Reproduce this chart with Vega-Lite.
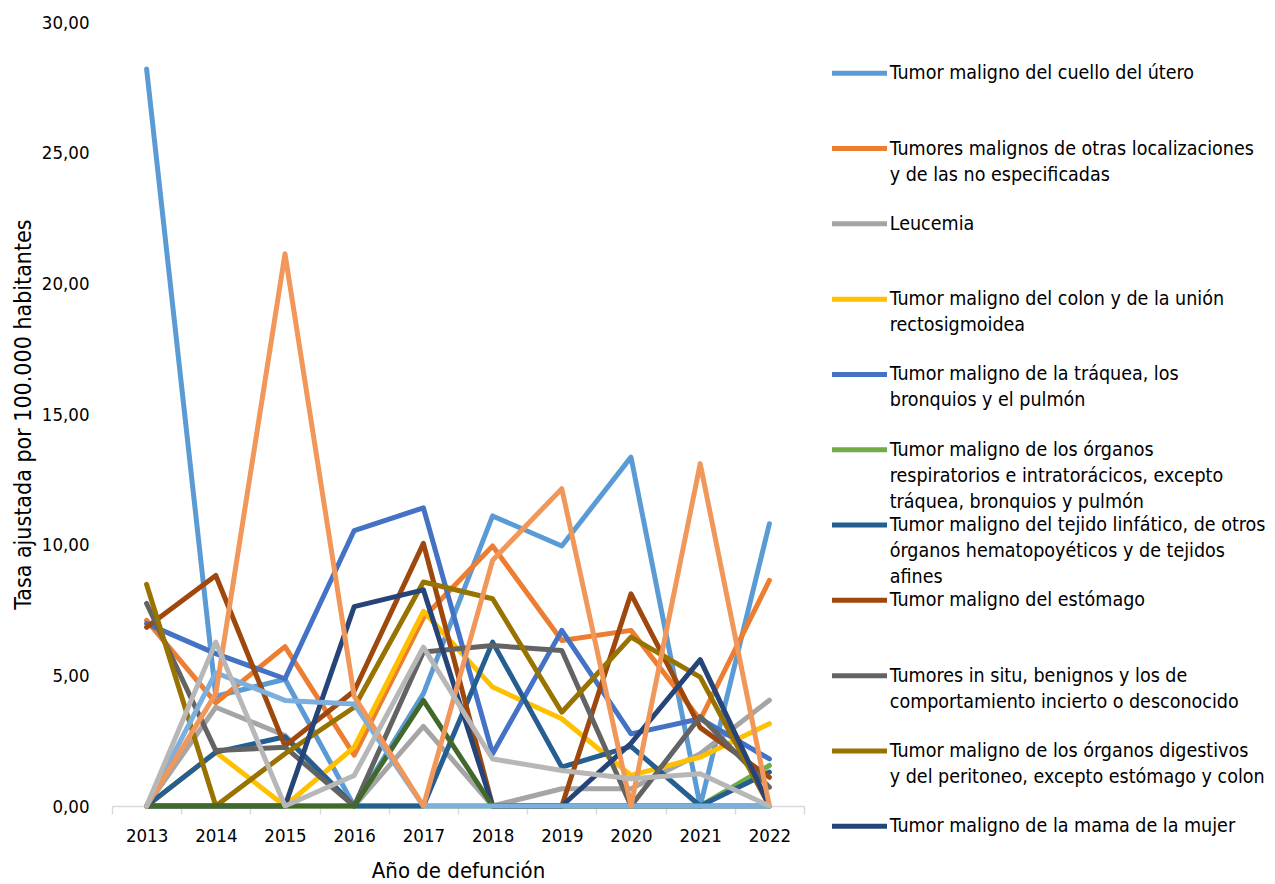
{
"$schema": "https://vega.github.io/schema/vega-lite/v6.json",
"width": 692, "height": 784,
"autosize": {"type": "none"},
"padding": {"left": 112, "top": 22, "right": 471, "bottom": 78},
"background": "white",
"config": {"view": {"stroke": null}, "font": "DejaVu Sans Condensed, Liberation Sans Narrow, sans-serif"},
"datasets": {"d": [
{"anio":"2013","causa":"Tumor maligno del cuello del útero","tasa":28.2},
{"anio":"2014","causa":"Tumor maligno del cuello del útero","tasa":4.2},
{"anio":"2015","causa":"Tumor maligno del cuello del útero","tasa":4.85},
{"anio":"2016","causa":"Tumor maligno del cuello del útero","tasa":0},
{"anio":"2017","causa":"Tumor maligno del cuello del útero","tasa":4.3},
{"anio":"2018","causa":"Tumor maligno del cuello del útero","tasa":11.1},
{"anio":"2019","causa":"Tumor maligno del cuello del útero","tasa":9.95},
{"anio":"2020","causa":"Tumor maligno del cuello del útero","tasa":13.35},
{"anio":"2021","causa":"Tumor maligno del cuello del útero","tasa":0},
{"anio":"2022","causa":"Tumor maligno del cuello del útero","tasa":10.8},
{"anio":"2013","causa":"Tumores malignos de otras localizaciones y de las no especificadas","tasa":7.1},
{"anio":"2014","causa":"Tumores malignos de otras localizaciones y de las no especificadas","tasa":3.95},
{"anio":"2015","causa":"Tumores malignos de otras localizaciones y de las no especificadas","tasa":6.1},
{"anio":"2016","causa":"Tumores malignos de otras localizaciones y de las no especificadas","tasa":1.95},
{"anio":"2017","causa":"Tumores malignos de otras localizaciones y de las no especificadas","tasa":7.2},
{"anio":"2018","causa":"Tumores malignos de otras localizaciones y de las no especificadas","tasa":9.95},
{"anio":"2019","causa":"Tumores malignos de otras localizaciones y de las no especificadas","tasa":6.33},
{"anio":"2020","causa":"Tumores malignos de otras localizaciones y de las no especificadas","tasa":6.72},
{"anio":"2021","causa":"Tumores malignos de otras localizaciones y de las no especificadas","tasa":3.3},
{"anio":"2022","causa":"Tumores malignos de otras localizaciones y de las no especificadas","tasa":8.63},
{"anio":"2013","causa":"Leucemia","tasa":0},
{"anio":"2014","causa":"Leucemia","tasa":3.78},
{"anio":"2015","causa":"Leucemia","tasa":2.7},
{"anio":"2016","causa":"Leucemia","tasa":0},
{"anio":"2017","causa":"Leucemia","tasa":3.05},
{"anio":"2018","causa":"Leucemia","tasa":0},
{"anio":"2019","causa":"Leucemia","tasa":0.66},
{"anio":"2020","causa":"Leucemia","tasa":0.66},
{"anio":"2021","causa":"Leucemia","tasa":2.0},
{"anio":"2022","causa":"Leucemia","tasa":4.05},
{"anio":"2013","causa":"Tumor maligno del colon y de la unión rectosigmoidea","tasa":0},
{"anio":"2014","causa":"Tumor maligno del colon y de la unión rectosigmoidea","tasa":2.06},
{"anio":"2015","causa":"Tumor maligno del colon y de la unión rectosigmoidea","tasa":0},
{"anio":"2016","causa":"Tumor maligno del colon y de la unión rectosigmoidea","tasa":2.25},
{"anio":"2017","causa":"Tumor maligno del colon y de la unión rectosigmoidea","tasa":7.45},
{"anio":"2018","causa":"Tumor maligno del colon y de la unión rectosigmoidea","tasa":4.55},
{"anio":"2019","causa":"Tumor maligno del colon y de la unión rectosigmoidea","tasa":3.34},
{"anio":"2020","causa":"Tumor maligno del colon y de la unión rectosigmoidea","tasa":1.17},
{"anio":"2021","causa":"Tumor maligno del colon y de la unión rectosigmoidea","tasa":1.87},
{"anio":"2022","causa":"Tumor maligno del colon y de la unión rectosigmoidea","tasa":3.15},
{"anio":"2013","causa":"Tumor maligno de la tráquea, los bronquios y el pulmón","tasa":6.98},
{"anio":"2014","causa":"Tumor maligno de la tráquea, los bronquios y el pulmón","tasa":5.83},
{"anio":"2015","causa":"Tumor maligno de la tráquea, los bronquios y el pulmón","tasa":4.87},
{"anio":"2016","causa":"Tumor maligno de la tráquea, los bronquios y el pulmón","tasa":10.54},
{"anio":"2017","causa":"Tumor maligno de la tráquea, los bronquios y el pulmón","tasa":11.41},
{"anio":"2018","causa":"Tumor maligno de la tráquea, los bronquios y el pulmón","tasa":2.0},
{"anio":"2019","causa":"Tumor maligno de la tráquea, los bronquios y el pulmón","tasa":6.72},
{"anio":"2020","causa":"Tumor maligno de la tráquea, los bronquios y el pulmón","tasa":2.76},
{"anio":"2021","causa":"Tumor maligno de la tráquea, los bronquios y el pulmón","tasa":3.34},
{"anio":"2022","causa":"Tumor maligno de la tráquea, los bronquios y el pulmón","tasa":1.8},
{"anio":"2013","causa":"Tumor maligno de los órganos respiratorios e intratorácicos, excepto tráquea, bronquios y pulmón","tasa":0},
{"anio":"2014","causa":"Tumor maligno de los órganos respiratorios e intratorácicos, excepto tráquea, bronquios y pulmón","tasa":0},
{"anio":"2015","causa":"Tumor maligno de los órganos respiratorios e intratorácicos, excepto tráquea, bronquios y pulmón","tasa":0},
{"anio":"2016","causa":"Tumor maligno de los órganos respiratorios e intratorácicos, excepto tráquea, bronquios y pulmón","tasa":0},
{"anio":"2017","causa":"Tumor maligno de los órganos respiratorios e intratorácicos, excepto tráquea, bronquios y pulmón","tasa":0},
{"anio":"2018","causa":"Tumor maligno de los órganos respiratorios e intratorácicos, excepto tráquea, bronquios y pulmón","tasa":0},
{"anio":"2019","causa":"Tumor maligno de los órganos respiratorios e intratorácicos, excepto tráquea, bronquios y pulmón","tasa":0},
{"anio":"2020","causa":"Tumor maligno de los órganos respiratorios e intratorácicos, excepto tráquea, bronquios y pulmón","tasa":0},
{"anio":"2021","causa":"Tumor maligno de los órganos respiratorios e intratorácicos, excepto tráquea, bronquios y pulmón","tasa":0},
{"anio":"2022","causa":"Tumor maligno de los órganos respiratorios e intratorácicos, excepto tráquea, bronquios y pulmón","tasa":1.55},
{"anio":"2013","causa":"Tumor maligno del tejido linfático, de otros órganos hematopoyéticos y de tejidos afines","tasa":0},
{"anio":"2014","causa":"Tumor maligno del tejido linfático, de otros órganos hematopoyéticos y de tejidos afines","tasa":2.06},
{"anio":"2015","causa":"Tumor maligno del tejido linfático, de otros órganos hematopoyéticos y de tejidos afines","tasa":2.65},
{"anio":"2016","causa":"Tumor maligno del tejido linfático, de otros órganos hematopoyéticos y de tejidos afines","tasa":0},
{"anio":"2017","causa":"Tumor maligno del tejido linfático, de otros órganos hematopoyéticos y de tejidos afines","tasa":0},
{"anio":"2018","causa":"Tumor maligno del tejido linfático, de otros órganos hematopoyéticos y de tejidos afines","tasa":6.27},
{"anio":"2019","causa":"Tumor maligno del tejido linfático, de otros órganos hematopoyéticos y de tejidos afines","tasa":1.49},
{"anio":"2020","causa":"Tumor maligno del tejido linfático, de otros órganos hematopoyéticos y de tejidos afines","tasa":2.28},
{"anio":"2021","causa":"Tumor maligno del tejido linfático, de otros órganos hematopoyéticos y de tejidos afines","tasa":0},
{"anio":"2022","causa":"Tumor maligno del tejido linfático, de otros órganos hematopoyéticos y de tejidos afines","tasa":1.3},
{"anio":"2013","causa":"Tumor maligno del estómago","tasa":6.84},
{"anio":"2014","causa":"Tumor maligno del estómago","tasa":8.82},
{"anio":"2015","causa":"Tumor maligno del estómago","tasa":2.3},
{"anio":"2016","causa":"Tumor maligno del estómago","tasa":4.4},
{"anio":"2017","causa":"Tumor maligno del estómago","tasa":10.05},
{"anio":"2018","causa":"Tumor maligno del estómago","tasa":0},
{"anio":"2019","causa":"Tumor maligno del estómago","tasa":0},
{"anio":"2020","causa":"Tumor maligno del estómago","tasa":8.12},
{"anio":"2021","causa":"Tumor maligno del estómago","tasa":3.0},
{"anio":"2022","causa":"Tumor maligno del estómago","tasa":1.1},
{"anio":"2013","causa":"Tumores in situ, benignos y los de comportamiento incierto o desconocido","tasa":7.75},
{"anio":"2014","causa":"Tumores in situ, benignos y los de comportamiento incierto o desconocido","tasa":2.12},
{"anio":"2015","causa":"Tumores in situ, benignos y los de comportamiento incierto o desconocido","tasa":2.25},
{"anio":"2016","causa":"Tumores in situ, benignos y los de comportamiento incierto o desconocido","tasa":0},
{"anio":"2017","causa":"Tumores in situ, benignos y los de comportamiento incierto o desconocido","tasa":5.89},
{"anio":"2018","causa":"Tumores in situ, benignos y los de comportamiento incierto o desconocido","tasa":6.14},
{"anio":"2019","causa":"Tumores in situ, benignos y los de comportamiento incierto o desconocido","tasa":5.95},
{"anio":"2020","causa":"Tumores in situ, benignos y los de comportamiento incierto o desconocido","tasa":0},
{"anio":"2021","causa":"Tumores in situ, benignos y los de comportamiento incierto o desconocido","tasa":3.42},
{"anio":"2022","causa":"Tumores in situ, benignos y los de comportamiento incierto o desconocido","tasa":0.72},
{"anio":"2013","causa":"Tumor maligno de los órganos digestivos y del peritoneo, excepto estómago y colon","tasa":8.48},
{"anio":"2014","causa":"Tumor maligno de los órganos digestivos y del peritoneo, excepto estómago y colon","tasa":0},
{"anio":"2015","causa":"Tumor maligno de los órganos digestivos y del peritoneo, excepto estómago y colon","tasa":2.0},
{"anio":"2016","causa":"Tumor maligno de los órganos digestivos y del peritoneo, excepto estómago y colon","tasa":3.78},
{"anio":"2017","causa":"Tumor maligno de los órganos digestivos y del peritoneo, excepto estómago y colon","tasa":8.57},
{"anio":"2018","causa":"Tumor maligno de los órganos digestivos y del peritoneo, excepto estómago y colon","tasa":7.93},
{"anio":"2019","causa":"Tumor maligno de los órganos digestivos y del peritoneo, excepto estómago y colon","tasa":3.59},
{"anio":"2020","causa":"Tumor maligno de los órganos digestivos y del peritoneo, excepto estómago y colon","tasa":6.46},
{"anio":"2021","causa":"Tumor maligno de los órganos digestivos y del peritoneo, excepto estómago y colon","tasa":4.93},
{"anio":"2022","causa":"Tumor maligno de los órganos digestivos y del peritoneo, excepto estómago y colon","tasa":0},
{"anio":"2013","causa":"Tumor maligno de la mama de la mujer","tasa":0},
{"anio":"2014","causa":"Tumor maligno de la mama de la mujer","tasa":0},
{"anio":"2015","causa":"Tumor maligno de la mama de la mujer","tasa":0},
{"anio":"2016","causa":"Tumor maligno de la mama de la mujer","tasa":7.63},
{"anio":"2017","causa":"Tumor maligno de la mama de la mujer","tasa":8.27},
{"anio":"2018","causa":"Tumor maligno de la mama de la mujer","tasa":0},
{"anio":"2019","causa":"Tumor maligno de la mama de la mujer","tasa":0},
{"anio":"2020","causa":"Tumor maligno de la mama de la mujer","tasa":2.4},
{"anio":"2021","causa":"Tumor maligno de la mama de la mujer","tasa":5.6},
{"anio":"2022","causa":"Tumor maligno de la mama de la mujer","tasa":0},
{"anio":"2013","causa":"Tumor maligno del cuerpo del útero","tasa":0},
{"anio":"2014","causa":"Tumor maligno del cuerpo del útero","tasa":0},
{"anio":"2015","causa":"Tumor maligno del cuerpo del útero","tasa":0},
{"anio":"2016","causa":"Tumor maligno del cuerpo del útero","tasa":0},
{"anio":"2017","causa":"Tumor maligno del cuerpo del útero","tasa":4.04},
{"anio":"2018","causa":"Tumor maligno del cuerpo del útero","tasa":0},
{"anio":"2019","causa":"Tumor maligno del cuerpo del útero","tasa":0},
{"anio":"2020","causa":"Tumor maligno del cuerpo del útero","tasa":0},
{"anio":"2021","causa":"Tumor maligno del cuerpo del útero","tasa":0},
{"anio":"2022","causa":"Tumor maligno del cuerpo del útero","tasa":0},
{"anio":"2013","causa":"Tumor maligno del útero, parte no especificada","tasa":0},
{"anio":"2014","causa":"Tumor maligno del útero, parte no especificada","tasa":5.1},
{"anio":"2015","causa":"Tumor maligno del útero, parte no especificada","tasa":4.04},
{"anio":"2016","causa":"Tumor maligno del útero, parte no especificada","tasa":3.9},
{"anio":"2017","causa":"Tumor maligno del útero, parte no especificada","tasa":0},
{"anio":"2018","causa":"Tumor maligno del útero, parte no especificada","tasa":0},
{"anio":"2019","causa":"Tumor maligno del útero, parte no especificada","tasa":0},
{"anio":"2020","causa":"Tumor maligno del útero, parte no especificada","tasa":0},
{"anio":"2021","causa":"Tumor maligno del útero, parte no especificada","tasa":0},
{"anio":"2022","causa":"Tumor maligno del útero, parte no especificada","tasa":0},
{"anio":"2013","causa":"Tumor maligno de otros órganos genitourinarios","tasa":0},
{"anio":"2014","causa":"Tumor maligno de otros órganos genitourinarios","tasa":4.3},
{"anio":"2015","causa":"Tumor maligno de otros órganos genitourinarios","tasa":21.13},
{"anio":"2016","causa":"Tumor maligno de otros órganos genitourinarios","tasa":4.2},
{"anio":"2017","causa":"Tumor maligno de otros órganos genitourinarios","tasa":0},
{"anio":"2018","causa":"Tumor maligno de otros órganos genitourinarios","tasa":9.4},
{"anio":"2019","causa":"Tumor maligno de otros órganos genitourinarios","tasa":12.14},
{"anio":"2020","causa":"Tumor maligno de otros órganos genitourinarios","tasa":0},
{"anio":"2021","causa":"Tumor maligno de otros órganos genitourinarios","tasa":13.1},
{"anio":"2022","causa":"Tumor maligno de otros órganos genitourinarios","tasa":0},
{"anio":"2013","causa":"Tumor maligno del ovario","tasa":0},
{"anio":"2014","causa":"Tumor maligno del ovario","tasa":6.27},
{"anio":"2015","causa":"Tumor maligno del ovario","tasa":0},
{"anio":"2016","causa":"Tumor maligno del ovario","tasa":1.17},
{"anio":"2017","causa":"Tumor maligno del ovario","tasa":6.08},
{"anio":"2018","causa":"Tumor maligno del ovario","tasa":1.8},
{"anio":"2019","causa":"Tumor maligno del ovario","tasa":1.36},
{"anio":"2020","causa":"Tumor maligno del ovario","tasa":1.04},
{"anio":"2021","causa":"Tumor maligno del ovario","tasa":1.23},
{"anio":"2022","causa":"Tumor maligno del ovario","tasa":0}
]},
"data": {"name": "d"},
"mark": {"type": "line", "strokeWidth": 5, "strokeCap": "round", "strokeJoin": "round"},
"encoding": {
  "x": {"field": "anio", "type": "ordinal",
    "scale": {"type": "band", "paddingInner": 0, "paddingOuter": 0},
    "axis": {"title": "Año de defunción", "labelAngle": 0, "domainColor": "#D9D9D9", "domainWidth": 1.5,
      "tickColor": "#D9D9D9", "tickWidth": 1.5, "tickSize": 8, "tickBand": "extent", "grid": false,
      "labelFontSize": 18.5, "labelColor": "#000000", "labelPadding": 12,
      "titleFontSize": 22, "titleFontWeight": "normal", "titleColor": "#000000", "titlePadding": 16}},
  "y": {"field": "tasa", "type": "quantitative",
    "scale": {"domain": [0, 30], "nice": false, "zero": true},
    "axis": {"title": "Tasa ajustada por 100.000 habitantes", "values": [0, 5, 10, 15, 20, 25, 30],
      "labelExpr": "replace(format(datum.value, '.2f'), '.', ',')",
      "domain": false, "ticks": false, "grid": false,
      "labelFontSize": 18.5, "labelColor": "#000000", "labelPadding": 23,
      "titleFontSize": 23, "titleFontWeight": "normal", "titleColor": "#000000", "titlePadding": 6}},
  "color": {"field": "causa", "type": "nominal",
    "scale": {"domain": [
      "Tumor maligno del cuello del útero",
      "Tumores malignos de otras localizaciones y de las no especificadas",
      "Leucemia",
      "Tumor maligno del colon y de la unión rectosigmoidea",
      "Tumor maligno de la tráquea, los bronquios y el pulmón",
      "Tumor maligno de los órganos respiratorios e intratorácicos, excepto tráquea, bronquios y pulmón",
      "Tumor maligno del tejido linfático, de otros órganos hematopoyéticos y de tejidos afines",
      "Tumor maligno del estómago",
      "Tumores in situ, benignos y los de comportamiento incierto o desconocido",
      "Tumor maligno de los órganos digestivos y del peritoneo, excepto estómago y colon",
      "Tumor maligno de la mama de la mujer",
      "Tumor maligno del cuerpo del útero",
      "Tumor maligno del útero, parte no especificada",
      "Tumor maligno de otros órganos genitourinarios",
      "Tumor maligno del ovario"],
      "range": ["#5B9BD5", "#ED7D31", "#A5A5A5", "#FFC000", "#4472C4", "#70AD47", "#255E91", "#9E480E", "#636363", "#997300", "#264478", "#43682B", "#7CAFDD", "#F1975A", "#B7B7B7"]},
    "legend": {"title": null, "orient": "none", "legendX": 720, "legendY": 41.5, "padding": 0,
      "values": [
      "Tumor maligno del cuello del útero",
      "Tumores malignos de otras localizaciones y de las no especificadas",
      "Leucemia",
      "Tumor maligno del colon y de la unión rectosigmoidea",
      "Tumor maligno de la tráquea, los bronquios y el pulmón",
      "Tumor maligno de los órganos respiratorios e intratorácicos, excepto tráquea, bronquios y pulmón",
      "Tumor maligno del tejido linfático, de otros órganos hematopoyéticos y de tejidos afines",
      "Tumor maligno del estómago",
      "Tumores in situ, benignos y los de comportamiento incierto o desconocido",
      "Tumor maligno de los órganos digestivos y del peritoneo, excepto estómago y colon",
      "Tumor maligno de la mama de la mujer"],
      "symbolType": "M-5.5,0H5.5", "symbolSize": 100, "symbolStrokeWidth": 5, "symbolOffset": 17.75,
      "labelFontSize": 19.5, "labelColor": "#000000", "labelLimit": 500, "labelOffset": 20.5,
      "labelBaseline": "middle",
      "gridAlign": "all", "rowPadding": 2.3,
      "encode": {"labels": {"update": {"lineHeight": {"value": 26}}}},
      "labelExpr": "indexof(datum.label,'otras localizaciones')>=0 ? ['Tumores malignos de otras localizaciones','y de las no especificadas'] : indexof(datum.label,'colon y de la')>=0 ? ['Tumor maligno del colon y de la unión','rectosigmoidea'] : indexof(datum.label,'tráquea, los')>=0 ? ['Tumor maligno de la tráquea, los','bronquios y el pulmón'] : indexof(datum.label,'respiratorios')>=0 ? ['Tumor maligno de los órganos','respiratorios e intratorácicos, excepto','tráquea, bronquios y pulmón'] : indexof(datum.label,'linfático')>=0 ? ['Tumor maligno del tejido linfático, de otros','órganos hematopoyéticos y de tejidos','afines'] : indexof(datum.label,'in situ')>=0 ? ['Tumores in situ, benignos y los de','comportamiento incierto o desconocido'] : indexof(datum.label,'digestivos')>=0 ? ['Tumor maligno de los órganos digestivos','y del peritoneo, excepto estómago y colon'] : datum.label"}}
}
}
